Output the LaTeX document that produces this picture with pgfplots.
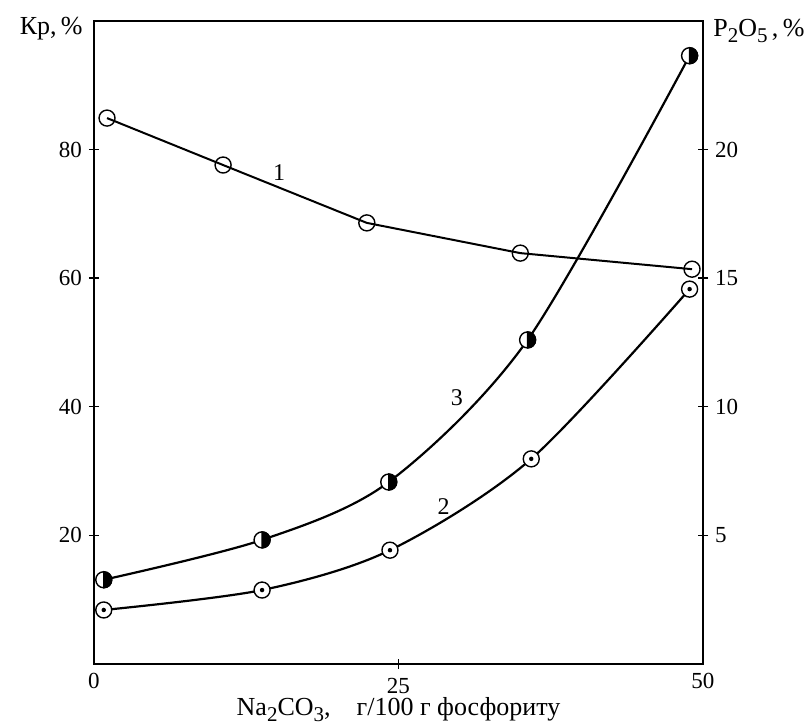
\documentclass[border=0pt]{standalone}
\usepackage{pgfplots}
\pgfplotsset{compat=1.18}
\usepackage{fontspec}
\setmainfont{Liberation Serif}
\newcommand\sub[1]{\raisebox{-0.5ex}{\fontsize{10.5}{12}\selectfont #1}}
\pgfdeclareplotmark{halfR}{%
  \pgfpathcircle{\pgfpointorigin}{\pgfplotmarksize}%
  \pgfsetfillcolor{white}\pgfusepathqfillstroke
  \pgfpathmoveto{\pgfqpoint{0pt}{\pgfplotmarksize}}%
  \pgfpatharc{90}{-90}{\pgfplotmarksize}%
  \pgfpathclose
  \pgfsetfillcolor{black}\pgfusepathqfillstroke}
\pgfdeclareplotmark{dotcirc}{%
  \pgfpathcircle{\pgfpointorigin}{\pgfplotmarksize}%
  \pgfsetfillcolor{white}\pgfusepathqfillstroke
  \pgfpathcircle{\pgfpointorigin}{0.28\pgfplotmarksize}%
  \pgfsetfillcolor{black}\pgfusepathqfill}
\begin{document}
\begin{tikzpicture}
\pgfplotsset{
  base/.style={at={(0,0)}, anchor=south west, scale only axis,
    width=304.5pt, height=321.5pt, xmin=0, xmax=50,
    tick align=center, major tick length=5pt,
    axis line style={line width=0.7pt}, tick style={line width=0.7pt, black},
    every tick label/.append style={font=\fontsize{11.5}{13}\selectfont},
    /pgf/number format/assume math mode=true, clip=false}
}
\begin{axis}[base, ymin=0, ymax=100,
  xtick={25}, extra x ticks={0,50}, extra x tick style={major tick length=0pt},
  ytick={20,40,60,80}, xtick pos=left, ytick pos=left,
  xticklabel style={yshift=-1pt}]
\addplot[line width=1pt, mark=o, mark size=4pt, mark options={line width=0.7pt, fill=white}]
  coordinates {(1.07,84.9) (10.6,77.6) (22.4,68.6) (35.0,63.9) (49.1,61.4)};
\addplot[line width=1.1pt, smooth, mark=dotcirc, mark size=4pt, mark options={line width=0.7pt}]
  coordinates {(0.8,8.4) (13.8,11.5) (24.3,17.7) (35.9,31.9) (48.9,58.3)};
\addplot[line width=1.1pt, smooth, mark=halfR, mark size=4pt, mark options={line width=0.7pt}]
  coordinates {(0.8,13.1) (13.8,19.3) (24.2,28.3) (35.6,50.4) (48.9,94.6)};
\node[font=\fontsize{12}{14}\selectfont] at (axis cs:15.2,76.5) {1};
\node[font=\fontsize{12}{14}\selectfont] at (axis cs:28.7,24.5) {2};
\node[font=\fontsize{12}{14}\selectfont] at (axis cs:29.8,41.4) {3};
\node[anchor=base east, inner sep=0pt, font=\fontsize{13}{15}\selectfont] at ([xshift=-5.5pt,yshift=-7pt]rel axis cs:0,1) {Кр,\,\%};
\node[anchor=base west, inner sep=0pt, font=\fontsize{13}{15}\selectfont] at ([xshift=5pt,yshift=-8pt]rel axis cs:1,1) {P\sub{2}O\sub{5}\,,\,\%};
\node[anchor=base, font=\fontsize{13}{15}\selectfont] at ([yshift=-26pt]rel axis cs:0.5,0) {Na\sub{2}CO\sub{3},\quad г/100 г фосфориту};
\end{axis}
\begin{axis}[base, ymin=0, ymax=25, hide x axis, axis y line*=right,
  ytick={5,10,15,20}]
\end{axis}
\pgfresetboundingbox
\path[use as bounding box] (-47pt,-31.5pt) rectangle (358pt,332pt);
\end{tikzpicture}
\end{document}
